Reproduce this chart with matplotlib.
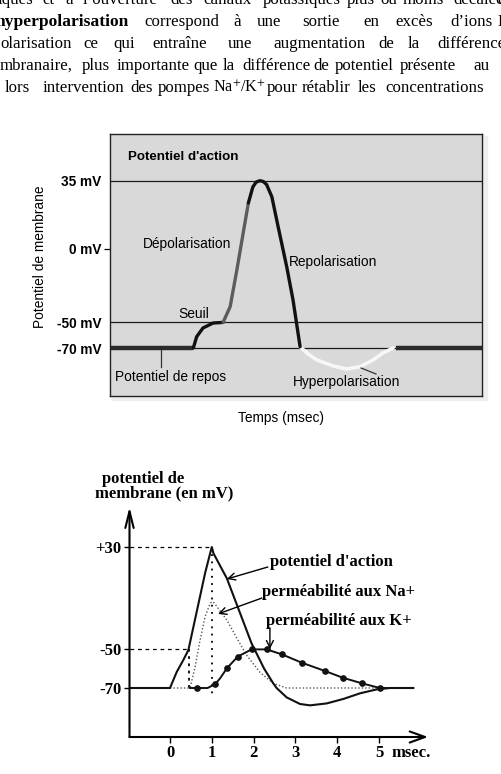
import numpy as np
import matplotlib.pyplot as plt
from matplotlib.patches import Rectangle

W, H = 501, 774
SERIF = 'Liberation Serif'
SANS = 'Liberation Sans'
plt.rcParams['mathtext.fontset'] = 'stix'

# ---- chart 1 : "Potentiel d'action" (time in ms, potential in mV) ----
rest_t = [0.0, 2.24]
rest_v = [-70, -70]
seuil_t = [2.24, 2.33, 2.50, 2.77, 3.04]
seuil_v = [-70, -61.3, -54.6, -50.8, -50.3]
depol_t = [3.04, 3.23, 3.41, 3.58, 3.72]
depol_v = [-50.3, -39.5, -14.4, 8.2, 23.6]
peak_t = [3.72, 3.84, 3.93, 4.03, 4.12, 4.21, 4.35, 4.52, 4.75, 4.92, 5.11]
peak_v = [23.6, 31.8, 34.3, 35.0, 34.6, 33.0, 26.8, 11.4, -12.1, -34.9, -69.0]
hyper_t = [5.11, 5.32, 5.56, 6.00, 6.36, 6.72, 7.07, 7.34, 7.61]
hyper_v = [-69.0, -74.5, -79.2, -83.8, -86.2, -84.4, -79.2, -73.8, -70.0]
after_t = [7.68, 10.0]
after_v = [-70, -70]
ticks1 = [35, 0, -50, -70]
ticks1_lab = ['35 mV', '0 mV', '-50 mV', '-70 mV']

# ---- chart 2 : action potential and permeabilities ----
ap_t = [-0.97, 0.0, 0.16, 0.32, 0.44, 0.84, 0.96, 1.0, 1.04, 1.36, 1.95, 2.25,
        2.47, 2.55, 2.79, 3.11, 3.35, 3.75, 4.15, 4.55, 4.95, 5.26, 5.82]
ap_v = [-70, -70, -61.8, -55.6, -50.5, 9.6, 25.0, 30.0, 25.0, 5.4, -45.5, -60.0,
        -67.6, -70.0, -74.8, -78.2, -78.9, -77.9, -75.6, -72.7, -70.7, -70.0, -70.0]
na_t = [0.0, 0.48, 0.60, 0.72, 0.84, 0.96, 1.01, 1.06, 1.24, 1.36, 1.60, 1.84,
        2.15, 2.47, 2.79, 5.18]
na_v = [-70, -70, -59.2, -42.9, -24.6, -14.1, -12.9, -14.0, -22.0, -27.3, -41.6,
        -53.4, -61.9, -67.6, -70.0, -70.0]
k_t = [0.48, 0.65, 0.90, 1.08, 1.20, 1.36, 1.62, 1.95, 2.31, 2.67, 3.15, 3.71,
       4.13, 4.59, 5.02, 5.20]
k_v = [-70, -70, -70, -68.0, -65.0, -59.9, -53.9, -50.2, -50.2, -52.7, -57.0,
       -61.3, -64.7, -67.6, -70.0, -70.0]
k_dot_t = [0.65, 1.08, 1.36, 1.62, 1.95, 2.31, 2.67, 3.15, 3.71, 4.13, 4.59, 5.02]
k_dot_v = [-70, -68.0, -59.9, -53.9, -50.2, -50.2, -52.7, -57.0, -61.3, -64.7,
           -67.6, -70.0]
ticks2_x = [0, 1, 2, 3, 4, 5]
ticks2_y = [30, -50, -70]
ticks2_ylab = ['+30', '-50', '-70']

# piecewise vertical scales (both drawings are not linear in mV)
mv1 = np.array([-110, -70, -50, 0, 35, 60])
px1 = np.array([400, 348, 322, 249, 180.7, 132.0])
mv2 = np.array([-100, -70, -50, 30, 70])
px2 = np.array([746.5, 688, 649, 547, 496])


def make_scale(mv, px):
    neg = -px
    return (lambda v: np.interp(v, mv, neg)), (lambda p: np.interp(p, neg, mv))


def rect(x0, y0, x1, y1):
    return [x0 / W, 1 - y1 / H, (x1 - x0) / W, (y1 - y0) / H]


def ftext(x, y, s, **kw):
    fig.text(x / W, 1 - y / H, s, **kw)


fig = plt.figure(figsize=(W / 100, H / 100), dpi=100)

# ---- page text ----
body = [
    (4.5, [(-2, 'iques'), (42, 'et'), (65, 'à'), (83, 'l’ouverture'), (170, 'des'),
           (203, 'canaux'), (263, 'potassiques'), (347, 'plus'), (380, 'ou'),
           (403, 'moins'), (453, 'décalée'), (497, 'd')]),
    (26.5, [(144, 'correspond'), (233, 'à'), (257, 'une'), (302, 'sortie'), (363, 'en'),
            (395, 'excès'), (450, 'd’ions'), (498, 'K')]),
    (48.3, [(0.5, 'olarisation'), (83, 'ce'), (113, 'qui'), (152, 'entraîne'), (228, 'une'),
            (273, 'augmentation'), (378, 'de'), (408, 'la'), (437, 'différence')]),
    (70, [(0, 'mbranaire,'), (82, 'plus'), (117, 'importante'), (193, 'que'), (223, 'la'),
          (242, 'différence'), (313, 'de'), (335, 'potentiel'), (400, 'présente'),
          (473, 'au')]),
    (91.8, [(5, 'lors'), (43, 'intervention'), (130, 'des'), (158, 'pompes'),
            (267, 'pour'), (302, 'rétablir'), (358, 'les'), (385, 'concentrations')]),
]
for base, words in body:
    for x, w in words:
        ftext(x, base, w, family=SERIF, size=12.2, va='baseline', ha='left')
ftext(213, 91.8, 'Na$^{+}$/K$^{+}$', family=SERIF, size=11.6, va='baseline', ha='left')
ftext(-4, 26.5, 'hyperpolarisation', family=SERIF, size=12.6, weight='bold',
      va='baseline', ha='left')

# ---- chart 1 ----
fig.patches.append(Rectangle((112 / W, 1 - 400 / H), 375 / W, 264 / H,
                             transform=fig.transFigure, color='#eeeeee', zorder=-5))
ax1 = fig.add_axes(rect(110, 134, 482, 396))
f1, i1 = make_scale(mv1, px1)
ax1.set_yscale('function', functions=(f1, i1))
ax1.set_xlim(0, 10)
ax1.set_ylim(i1(-396), i1(-134))
ax1.set_facecolor('#d9d9d9')
for s in ax1.spines.values():
    s.set_linewidth(1.0)
    s.set_color('#222222')
for lvl in [35, -50, -70]:
    ax1.axhline(lvl, color='#1a1a1a', lw=0.9)
ax1.plot(rest_t, rest_v, color='#2b2b2b', lw=3.2, solid_capstyle='butt')
ax1.plot(after_t, after_v, color='#2b2b2b', lw=3.2, solid_capstyle='butt')
ax1.plot(hyper_t, hyper_v, color='#f7f7f7', lw=2.6, solid_capstyle='round')
ax1.plot(seuil_t, seuil_v, color='#111111', lw=2.4, solid_capstyle='round')
ax1.plot(depol_t, depol_v, color='#5c5c5c', lw=2.4, solid_capstyle='round')
ax1.plot(peak_t, peak_v, color='#111111', lw=2.4, solid_capstyle='round')
ax1.plot([1.36, 1.36], [-71.5, -84.6], color='#333333', lw=0.9)
ax1.plot([6.75, 7.15], [-85.4, -90.0], color='#333333', lw=0.9)
ax1.set_xticks([])
ax1.set_yticks(ticks1)
ax1.set_yticklabels(ticks1_lab, family=SANS, weight='bold', size=9.8)
ax1.tick_params(axis='y', length=4, width=0.9, pad=2)
for i, t in enumerate(ax1.yaxis.get_major_ticks()):
    if ticks1[i] != 0:
        t.tick1line.set_visible(False)

ftext(128, 157, "Potentiel d'action", family=SANS, weight='bold', size=9.6,
      va='center', ha='left')
ftext(142.5, 244, 'Dépolarisation', family=SANS, size=9.9, va='center', ha='left')
ftext(289, 262, 'Repolarisation', family=SANS, size=9.9, va='center', ha='left')
ftext(178, 314, 'Seuil', family=SANS, size=9.9, va='center', ha='left')
ftext(115, 377, 'Potentiel de repos', family=SANS, size=9.9, va='center', ha='left')
ftext(293, 382, 'Hyperpolarisation', family=SANS, size=9.9, va='center', ha='left')
ftext(281, 418, 'Temps (msec)', family=SANS, size=9.9, va='center', ha='center')
ftext(40, 257, 'Potentiel de membrane', family=SANS, size=9.9, rotation=90,
      va='center', ha='center')

# ---- chart 2 ----
ax2 = fig.add_axes(rect(129.5, 507, 428, 737))
f2, i2 = make_scale(mv2, px2)
ax2.set_yscale('function', functions=(f2, i2))
ax2.set_xlim(-0.969, 6.172)
ax2.set_ylim(i2(-737), i2(-507))
ax2.set_facecolor('none')
for s in ax2.spines.values():
    s.set_visible(False)
ax2.annotate('', xy=(0, 1), xytext=(0, 0), xycoords='axes fraction',
             arrowprops=dict(arrowstyle='->,head_length=1.2,head_width=0.3',
                             lw=1.5, color='black', shrinkA=0, shrinkB=0))
ax2.annotate('', xy=(1, 0), xytext=(0, 0), xycoords='axes fraction',
             arrowprops=dict(arrowstyle='->,head_length=1.1,head_width=0.4',
                             lw=1.5, color='black', shrinkA=0, shrinkB=0))

# guides
ax2.plot([-0.969, 1.0], [30, 30], color='black', lw=0.9, ls=(0, (3, 3)))
ax2.plot([-0.969, 0.45], [-50, -50], color='black', lw=0.9, ls=(0, (3, 3)))
ax2.plot([1.0, 1.0], [30, -73.6], color='black', lw=1.3, ls=(0, (1, 3)))
ax2.plot([0.45, 0.45], [-50, -70], color='black', lw=1.3, ls=(0, (1.5, 2.5)))

ax2.plot(na_t, na_v, color='#555555', lw=1.0, ls=(0, (1, 1.5)))
ax2.plot(k_t, k_v, color='#111111', lw=1.4)
ax2.plot(k_dot_t, k_dot_v, 'o', color='#111111', ms=3.8)
ax2.plot(ap_t, ap_v, color='#111111', lw=1.5)

ax2.set_xticks(ticks2_x)
ax2.set_xticklabels([str(v) for v in ticks2_x], family=SERIF, weight='bold', size=12)
ax2.set_yticks(ticks2_y)
ax2.set_yticklabels(ticks2_ylab, family=SERIF, weight='bold', size=12)
ax2.tick_params(axis='both', length=4, width=1.0, pad=2)
ax2.yaxis.set_minor_locator(plt.NullLocator())

arrow_kw = dict(arrowstyle='->,head_length=0.5,head_width=0.25', lw=1.0,
                color='black', shrinkA=0, shrinkB=0)
ax2.annotate('', xy=(1.36, 4.9), xytext=(2.34, 14.3), arrowprops=arrow_kw)
ax2.annotate('', xy=(1.15, -22.5), xytext=(2.2, -10.0), arrowprops=arrow_kw)
ax2.annotate('', xy=(2.39, -50.0), xytext=(2.39, -33.5), arrowprops=arrow_kw)

lab = dict(family=SERIF, weight='bold', size=12, va='center', ha='left')
ftext(270, 562, "potentiel d'action", **lab)
ftext(262, 592, 'perméabilité aux Na+', **lab)
ftext(266, 621, 'perméabilité aux K+', **lab)
ftext(391, 753, 'msec.', **lab)
ftext(102, 479, 'potentiel de', **lab)
ftext(95, 493, 'membrane (en mV)', **lab)

fig.savefig('out.png', dpi=100)
